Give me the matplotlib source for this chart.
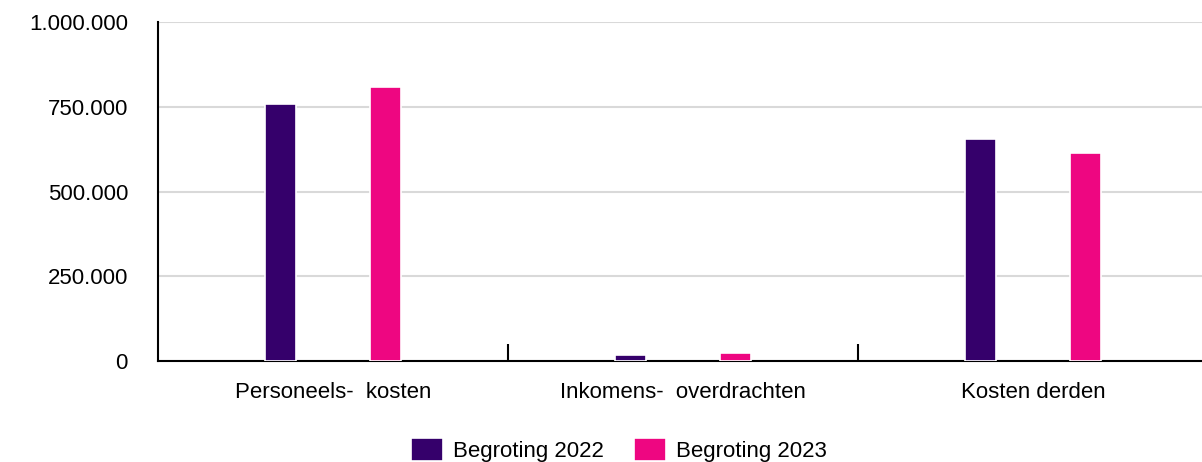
import numpy as np
import matplotlib.pyplot as plt
from matplotlib.ticker import FuncFormatter

categories = ["Personeels-  kosten", "Inkomens-  overdrachten", "Kosten derden"]
begroting_2022 = [757000, 19000, 656000]
begroting_2023 = [808000, 25000, 615000]
series = ["Begroting 2022", "Begroting 2023"]
colors = ["#35006b", "#ee0681"]

plt.rcParams['font.family'] = ['Liberation Sans', 'DejaVu Sans']
fs = 16

fig = plt.figure(figsize=(12.02, 4.62), dpi=100)
ax = fig.add_axes([158 / 1202, 101 / 462, 1 - 158 / 1202, 339 / 462])

x = np.arange(len(categories))
offset = 0.151
width = 0.088
ax.bar(x - offset, begroting_2022, width, color=colors[0], edgecolor="white",
       linewidth=1.2, label=series[0], zorder=3)
ax.bar(x + offset, begroting_2023, width, color=colors[1], edgecolor="white",
       linewidth=1.2, label=series[1], zorder=3)

ax.set_xlim(-0.5, 2.483)
ax.set_ylim(0, 1000000)
ax.set_yticks([0, 250000, 500000, 750000, 1000000])
ax.yaxis.set_major_formatter(FuncFormatter(lambda v, p: f"{int(v):,}".replace(",", ".")))
ax.grid(axis="y", color="#d9d9d9", linewidth=1.5, zorder=0)
ax.tick_params(axis="y", length=0, pad=21.6, labelsize=fs)

# separators between groups as ticks, labels at the centers as minor ticks
ax.set_xticks([0.5, 1.5])
ax.set_xticklabels([])
ax.tick_params(axis="x", which="major", direction="in", length=12, width=1.5, color="black")
ax.set_xticks(x, minor=True)
ax.set_xticklabels(categories, minor=True)
ax.tick_params(axis="x", which="minor", length=0, pad=15, labelsize=fs)

for s in ["top", "right"]:
    ax.spines[s].set_visible(False)
ax.spines["left"].set_linewidth(1.5)
ax.spines["bottom"].set_linewidth(1.5)

fig.legend(loc="center", bbox_to_anchor=(619 / 1202, 12 / 462), ncol=2, frameon=False,
           fontsize=fs, handlelength=1.44, handleheight=1.22, handletextpad=0.45,
           columnspacing=1.35)

fig.savefig("out.png", dpi=100)
